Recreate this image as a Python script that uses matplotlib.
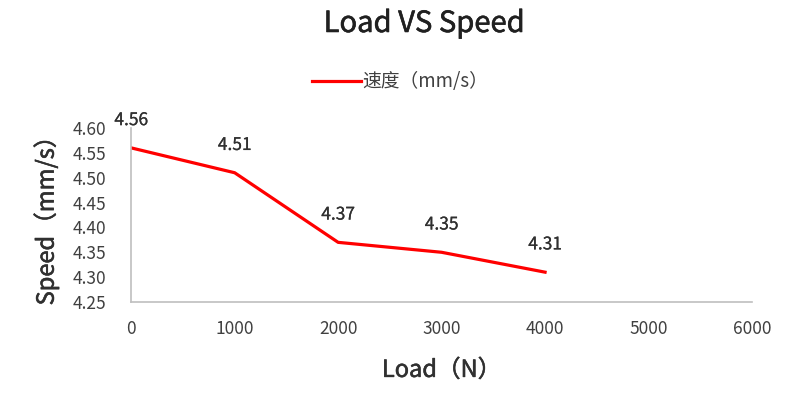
import matplotlib
matplotlib.use("Agg")
import matplotlib.pyplot as plt
import matplotlib.patheffects as pe

plt.rcParams['font.family'] = ['Noto Sans CJK SC', 'DejaVu Sans']

loads = [0, 1000, 2000, 3000, 4000]
speeds = [4.56, 4.51, 4.37, 4.35, 4.31]
x_ticks = [0, 1000, 2000, 3000, 4000, 5000, 6000]
y_ticks = [4.25, 4.30, 4.35, 4.40, 4.45, 4.50, 4.55, 4.60]
series_name = "速度（mm/s）"
title = "Load VS Speed"
x_label = "Load（N）"
y_label = "Speed（mm/s）"

def thick(color, w=0.7):
    return [pe.withStroke(linewidth=w, foreground=color)]

fig = plt.figure(figsize=(8, 4), dpi=100)
ax = fig.add_axes([0.164, 0.245, 0.776, 0.435])

line, = ax.plot(loads, speeds, color='#FF0000', linewidth=2.3, label=series_name)
for x, y in zip(loads, speeds):
    ax.annotate(f"{y:.2f}", (x, y), xytext=(0, 20), textcoords='offset points',
                ha='center', va='center', fontsize=12.5, color='#303030',
                path_effects=thick('#303030', 0.15))

ax.set_xlim(0, 6000)
ax.set_ylim(4.25, 4.60)
ax.set_xticks(x_ticks)
ax.set_yticks(y_ticks)
ax.set_yticklabels([f"{v:.2f}" for v in y_ticks])
ax.tick_params(axis='both', length=0, labelsize=12.5, labelcolor='#404040')
ax.tick_params(axis='y', pad=18)
ax.tick_params(axis='x', pad=13)
for s in ['top', 'right']:
    ax.spines[s].set_visible(False)
for s in ['left', 'bottom']:
    ax.spines[s].set_color('#BFBFBF')
    ax.spines[s].set_linewidth(1.2)

ax.set_xlabel(x_label, fontsize=17, color='#303030', labelpad=15,
              path_effects=thick('#303030', 0.4))
ax.set_ylabel(y_label, fontsize=17, color='#303030', labelpad=10,
              path_effects=thick('#303030', 0.4))
fig.text(0.53, 0.94, title, ha='center', va='center', fontsize=21, color='#202020',
         path_effects=thick('#202020', 0.4))
fig.legend(handles=[line], loc='center', bbox_to_anchor=(0.5, 0.795), frameon=False,
           fontsize=13.5, labelcolor='#404040', handlelength=2.6, handletextpad=0.1)

fig.savefig("out.png", dpi=100)
